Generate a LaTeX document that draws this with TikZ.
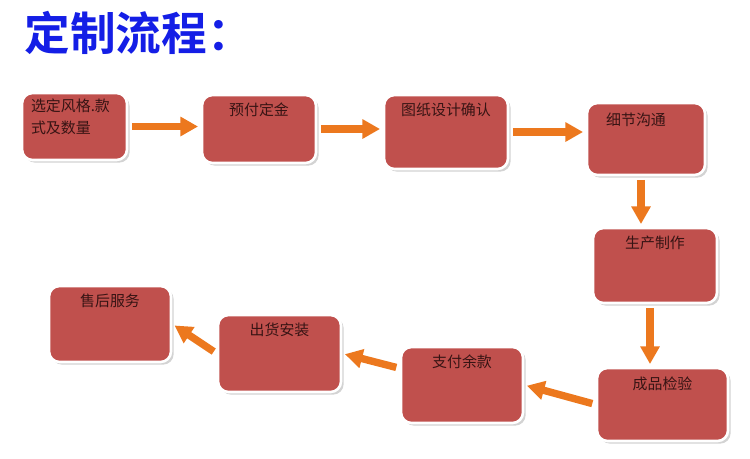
\documentclass[tikz,border=0pt]{standalone}
\usepackage{fontspec}
\newfontfamily\cjk{Noto Sans CJK SC}
\newfontfamily\cjkbold{Noto Sans CJK SC Bold}
\usepackage{xcolor}
\usepackage{tikz}
\usetikzlibrary{arrows.meta, positioning, shadows}

\definecolor{boxred}{RGB}{192,80,77}
\definecolor{boxtext}{RGB}{55,20,20}
\definecolor{flowor}{RGB}{236,120,30}
\definecolor{titleblue}{RGB}{20,30,230}

\begin{document}
\begin{tikzpicture}[x=0.02cm, y=-0.02cm,
    box/.style={rectangle, rounded corners=6pt, fill=boxred, draw=white, line width=1.5pt,
        drop shadow={opacity=0.35, shadow xshift=1.5pt, shadow yshift=-1.5pt}, inner sep=0pt},
    lbl/.style={font=\cjk\fontsize{8.5}{12.5}\selectfont, text=boxtext, inner sep=0pt},
    flow/.style={flowor, line width=4.2pt, -{Triangle[length=10pt, width=10.5pt]},
        shorten <=2pt, shorten >=1.5pt}]
    \useasboundingbox (0,0) rectangle (750,458);

    % 标题
    \node[anchor=west, inner sep=0pt, text=titleblue, font=\cjkbold\fontsize{26}{26}\selectfont] (title) at (24,33) {定制流程：};

    % 流程框
    \node[box, minimum width=105*0.02cm, minimum height=67*0.02cm] (b1) at (74.5,126.5) {};
    \node[box, minimum width=114*0.02cm, minimum height=68*0.02cm] (b2) at (259,129) {};
    \node[box, minimum width=124*0.02cm, minimum height=74*0.02cm] (b3) at (446,132) {};
    \node[box, minimum width=118*0.02cm, minimum height=72*0.02cm] (b4) at (646,139) {};
    \node[box, minimum width=124*0.02cm, minimum height=75*0.02cm] (b5) at (655,265.5) {};
    \node[box, minimum width=131*0.02cm, minimum height=73*0.02cm] (b6) at (662.5,404.5) {};
    \node[box, minimum width=122*0.02cm, minimum height=76*0.02cm] (b7) at (462,385) {};
    \node[box, minimum width=123*0.02cm, minimum height=77*0.02cm] (b8) at (279.5,353.5) {};
    \node[box, minimum width=122*0.02cm, minimum height=76*0.02cm] (b9) at (110,324) {};

    % 框内文字
    \node[lbl, anchor=north west, align=left] (t1) at ([xshift=10*0.02cm, yshift=-7*0.02cm]b1.north west) {选定风格.款\\式及数量};
    \node[lbl, below=9*0.02cm of b2.north] (t2) {预付定金};
    \node[lbl, below=9*0.02cm of b3.north] (t3) {图纸设计确认};
    \node[lbl, below=11*0.02cm of b4.north, xshift=-10*0.02cm] (t4) {细节沟通};
    \node[lbl, below=9*0.02cm of b5.north] (t5) {生产制作};
    \node[lbl, below=10*0.02cm of b6.north] (t6) {成品检验};
    \node[lbl, below=9*0.02cm of b7.north] (t7) {支付余款};
    \node[lbl, below=9*0.02cm of b8.north] (t8) {出货安装};
    \node[lbl, below=9*0.02cm of b9.north] (t9) {售后服务};

    % 箭头
    \draw[flow] (b1.east) -- (b1.east -| b2.west);
    \draw[flow] (b2) -- (b2 -| b3.west);
    \draw[flow] (b3) -- (b3 -| b4.west);
    \draw[flow] ([xshift=-5*0.02cm]b4.south) -- ([xshift=-5*0.02cm]b4.south |- b5.north);
    \draw[flow] ([xshift=-5*0.02cm]b5.south) -- ([xshift=-5*0.02cm]b5.south |- b6.north);
    \draw[flow] (b6.west) -- (b7.east);
    \draw[flow] (b7.165) -- (b8.east);
    \draw[flow] (b8.west) -- (b9.east);
\end{tikzpicture}
\end{document}
